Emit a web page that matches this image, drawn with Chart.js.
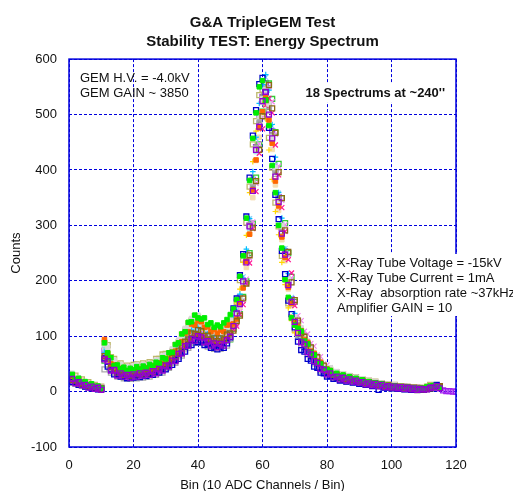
<!DOCTYPE html>
<html>
<head>
<meta charset="utf-8">
<title>G&amp;A TripleGEM Test</title>
<script src="https://cdn.jsdelivr.net/npm/chart.js@4.4.1/dist/chart.umd.min.js"></script>
<style>
    html, body { margin: 0; padding: 0; background: #ffffff; }
    #wrap { width: 513px; height: 491px; }
</style>
</head>
<body>
<div id="wrap"><canvas id="chartSpectrum" width="513" height="491"></canvas></div>
<script>
// Bin (10 ADC channels / bin)
const bins = [
    1, 2, 3, 4, 5, 6, 7, 8, 9, 10, 11, 12, 13, 14, 15, 16, 17, 18, 19, 20,
    21, 22, 23, 24, 25, 26, 27, 28, 29, 30, 31, 32, 33, 34, 35, 36, 37, 38, 39, 40,
    41, 42, 43, 44, 45, 46, 47, 48, 49, 50, 51, 52, 53, 54, 55, 56, 57, 58, 59, 60,
    61, 62, 63, 64, 65, 66, 67, 68, 69, 70, 71, 72, 73, 74, 75, 76, 77, 78, 79, 80,
    81, 82, 83, 84, 85, 86, 87, 88, 89, 90, 91, 92, 93, 94, 95, 96, 97, 98, 99, 100,
    101, 102, 103, 104, 105, 106, 107, 108, 109, 110, 111, 112, 113, 114, 115, 116, 117, 118, 119, 120
];

// Counts per bin, one array per spectrum (18 spectra at ~240")
const spec01 = [23,15,17,11,12,7,9,5,7,3, 58,55,38,39,29,33,27,30,25,31, 27,33,29,34,30,37,33,41,38,47, 45,56,55,68,69,82,83,95,92,100, 98,89,91,83,87,80,86,83,93,99, 118,141,158,199,233,298,362,436,478,524, 541,500,457,388,342,285,247,192,162,126, 106,89,85,71,67,55,52,41,39,31, 33,26,27,22,25,20,22,18,20,16, 17,13,15,11,14,10,12,8,10,7, 9,6,8,5,7,4,6,3,5,4, 4,7,7,10,6];
const spec02 = [31,22,24,17,18,12,14,9,10,6, 88,70,61,47,48,41,44,38,42,39, 45,40,46,42,49,46,53,51,61,59, 70,71,85,88,104,108,125,126,138,133, 131,133,121,124,116,120,117,124,130,139, 149,166,208,245,313,381,457,503,550,561, 526,480,408,359,300,259,202,170,133,120, 114,109,91,86,70,66,53,50,41,40, 38,31,33,28,30,25,27,22,24,20, 21,17,18,15,16,13,14,11,11,9, 10,8,9,7,8,6,7,5,6,6, 9,10,11,8,7];
const spec03 = [21,20,15,15,11,11,8,9,6,6, 64,60,44,42,34,36,30,33,29,34, 35,31,36,33,38,36,42,41,48,47, 51,61,63,74,78,90,94,105,104,111, 109,100,101,94,96,91,96,94,103,105, 110,127,137,168,195,246,296,380,436,497, 526,553,511,467,396,349,291,252,197,165, 128,105,99,85,80,66,62,50,47,38, 36,30,30,26,27,23,24,21,22,19, 20,16,17,14,15,12,13,10,11,8, 10,8,9,7,8,6,7,5,6,4, 5,6,8,9,10];
const spec04 = [28,21,22,15,15,11,12,8,9,6, 94,68,50,48,40,42,35,38,34,39, 36,41,38,43,40,47,44,52,51,60, 60,71,73,87,90,105,108,122,120,128, 126,116,117,108,112,105,111,108,120,121, 122,131,161,187,235,284,364,418,476,505, 530,490,448,380,335,279,242,188,159,124, 117,110,94,89,73,69,55,53,41,41, 38,31,32,26,29,23,26,21,23,19, 20,16,18,14,16,12,14,10,12,8, 10,7,9,6,8,5,7,4,6,4, 7,6,10,9,8];
const spec05 = [17,18,12,13,9,10,6,7,4,6, 60,45,40,31,32,27,29,24,28,25, 30,26,31,28,32,30,36,34,41,40, 47,48,57,59,70,72,84,84,93,89, 92,84,85,79,81,76,81,79,87,98, 150,168,210,248,316,386,462,508,555,566, 540,476,420,355,311,254,212,164,140,116, 90,75,72,59,56,45,43,34,33,27, 28,23,25,20,22,18,21,16,19,14, 16,12,15,10,13,3,11,7,10,6, 8,5,7,4,6,3,5,3,4,3, 6,5,9,12,8];
const spec06 = [33,24,25,18,18,13,14,9,10,7, 86,80,59,57,47,49,42,45,41,46, 48,44,49,46,51,50,57,57,64,66, 65,77,80,93,99,114,118,132,130,138, 122,118,114,111,108,112,107,115,117,129, 128,138,169,196,246,298,379,437,496,528, 545,519,459,404,342,299,245,204,159,135, 122,115,99,92,77,71,59,54,45,42, 43,36,36,31,32,28,29,25,26,23, 23,19,20,17,18,15,15,12,13,10, 12,9,10,8,9,6,8,5,7,5, 8,8,11,12,9];
const spec07 = [20,19,15,15,11,11,8,8,5,6, 63,58,45,36,36,30,33,28,31,29, 30,34,31,35,32,38,36,43,42,49, 52,54,63,66,78,82,93,95,103,101, 98,99,92,93,87,90,87,93,94,104, 112,118,139,157,195,232,294,361,430,474, 517,529,503,445,391,332,289,238,214,155, 123,111,95,89,76,70,58,54,44,42, 34,33,28,29,25,26,22,23,20,21, 18,18,15,16,13,14,11,12,9,10, 8,10,7,9,6,8,5,7,4,6, 5,7,8,9,9];
const spec08 = [27,20,20,14,15,11,12,7,8,5, 71,66,48,46,38,40,34,37,33,38, 39,35,40,37,42,40,46,45,52,53, 61,63,74,78,91,96,109,111,121,118, 116,115,107,108,102,105,102,108,109,121, 133,144,176,205,257,312,397,459,520,554, 572,544,482,423,359,313,257,213,167,141, 118,109,95,88,74,68,56,52,42,40, 37,31,31,27,28,24,25,22,23,20, 20,17,18,15,16,13,14,11,12,9, 10,8,9,6,8,6,7,5,6,4, 6,8,9,11,8];
const spec09 = [32,24,25,18,17,13,14,9,10,7, 62,72,58,55,46,47,41,43,39,44, 46,42,47,44,50,48,55,54,62,63, 66,69,80,85,99,105,118,122,131,128, 120,111,111,104,106,101,106,104,113,124, 130,160,185,233,282,359,415,470,501,524, 492,436,383,325,283,233,193,151,128,106, 110,104,88,82,67,63,51,48,39,38, 36,30,32,27,28,23,26,21,24,19, 20,16,18,14,15,12,13,10,11,9, 10,8,9,7,8,6,7,5,6,6, 8,11,10,9,6];
const spec10 = [16,17,12,12,9,9,7,7,4,5, 40,48,34,33,27,29,24,26,23,27, 24,28,25,30,27,32,30,36,34,41, 43,52,52,63,65,76,79,88,88,93, 88,88,81,83,77,80,77,83,83,95, 120,142,160,199,237,300,368,439,484,528, 546,507,460,393,345,289,249,195,163,128, 99,84,80,67,63,51,49,38,38,29, 31,24,27,21,24,18,22,17,20,15, 17,12,16,11,14,9,12,7,11,6, 9,5,8,4,7,3,6,2,5,3, 4,6,7,9,7];
const spec11 = [26,25,19,19,14,14,10,11,7,8, 69,78,57,46,46,39,41,36,40,37, 42,38,43,41,46,44,50,50,57,58, 62,73,76,89,95,109,114,126,127,133, 121,112,110,104,106,100,105,104,112,118, 117,122,144,164,203,241,306,376,447,494, 538,550,523,464,407,345,301,247,205,161, 137,128,109,104,87,82,66,63,50,48, 43,35,36,30,32,27,28,23,26,21, 23,19,20,17,18,14,15,12,13,10, 11,9,10,8,9,7,8,6,7,5, 6,7,9,10,10];
const spec12 = [22,21,16,16,12,12,9,9,6,7, 77,58,50,40,40,34,36,31,35,32, 37,33,38,35,40,38,44,43,50,50, 58,60,70,74,86,91,103,106,114,112, 114,106,106,99,101,96,101,99,108,111, 125,147,167,207,246,312,383,456,504,549, 567,527,479,409,358,301,258,203,170,133, 116,100,94,80,74,61,57,46,44,35, 36,29,31,25,28,22,25,20,23,18, 19,15,17,13,15,11,13,9,11,7, 10,7,9,6,8,5,7,4,6,4, 7,6,10,10,7];
const spec13 = [24,16,17,12,13,9,10,6,7,4, 60,57,41,40,33,34,29,32,28,33, 34,30,34,31,36,34,40,39,45,45, 48,58,59,70,74,86,89,99,99,105, 103,95,96,89,91,86,91,89,97,100, 121,143,162,201,239,303,372,443,489,533, 551,512,465,397,348,292,251,197,165,129, 101,94,81,76,63,59,48,45,36,35, 29,30,24,26,21,24,19,22,17,20, 15,16,13,14,12,13,10,11,8,9, 7,8,6,7,5,6,4,6,4,6, 6,5,9,8,7];
const spec14 = [30,29,22,22,16,17,12,12,8,9, 88,84,62,59,49,51,44,47,43,48, 49,45,51,48,53,52,59,59,67,68, 69,72,84,89,103,110,123,128,136,135, 125,117,116,109,111,106,111,109,119,128, 143,162,201,238,305,370,446,488,535,545, 519,458,404,341,298,245,203,159,134,112, 124,108,100,84,78,64,60,48,46,39, 39,33,34,29,31,26,28,23,26,20, 22,17,20,15,18,12,15,10,13,9, 12,8,10,7,9,6,8,5,7,6, 9,12,11,9,7];
const spec15 = [23,22,17,17,13,13,10,9,6,7, 71,60,53,42,42,36,38,33,37,34, 35,39,36,41,38,44,42,49,48,57, 57,67,69,82,86,100,104,115,116,122, 120,111,111,104,106,101,106,104,113,117, 126,136,166,193,243,294,374,433,490,522, 540,513,454,399,339,295,243,201,157,134, 112,104,90,84,70,65,53,50,40,39, 32,33,27,29,24,26,21,24,19,22, 16,19,14,17,12,15,10,13,8,11, 7,10,6,9,5,8,4,7,3,6, 5,8,8,11,7];
const spec16 = [22,15,16,11,12,8,9,5,7,4, 56,58,39,38,30,33,27,30,26,31, 28,32,29,33,30,36,34,40,39,46, 46,55,56,67,69,81,84,94,93,99, 97,90,90,84,86,81,86,84,92,94, 113,129,140,171,199,250,303,386,446,505, 544,556,528,468,411,349,304,250,207,162, 121,101,94,81,76,63,59,48,45,36, 35,29,30,24,26,21,24,19,22,17, 19,15,16,13,15,12,13,10,11,8, 9,7,8,6,7,5,6,4,6,4, 5,5,7,8,9];
const spec17 = [27,26,20,20,14,15,11,11,7,8, 80,75,55,52,44,45,39,42,38,43, 40,44,41,46,44,50,48,56,56,64, 64,66,77,82,94,100,113,117,125,123, 121,121,112,113,107,110,107,113,115,126, 114,135,152,189,224,285,350,417,459,501, 518,481,437,373,327,274,236,185,155,121, 127,110,103,88,81,67,63,51,48,39, 39,32,34,28,31,24,27,22,25,20, 21,17,19,15,16,12,14,10,12,8, 11,8,10,7,9,6,8,5,7,5, 6,9,9,12,8];
const spec18 = [19,21,15,15,11,12,8,9,5,7, 74,54,48,38,38,32,34,29,33,30, 31,35,32,37,34,40,38,45,44,51, 55,57,67,70,82,86,98,101,108,106, 104,105,97,98,92,95,92,98,99,109, 128,138,170,197,247,300,382,441,500,532, 556,517,470,401,351,295,253,199,167,130, 110,95,89,76,70,58,54,44,42,33, 30,31,26,28,23,25,20,23,18,21, 15,18,13,16,11,14,9,12,8,11, 7,10,6,9,5,8,4,7,3,6, 5,8,8,11,7,2,1,1,0,0];

const spectra = [spec01, spec02, spec03, spec04, spec05, spec06, spec07, spec08, spec09,
                 spec10, spec11, spec12, spec13, spec14, spec15, spec16, spec17, spec18];

// Marker de cada espectro (o primeiro fica por cima)
const markers = [
    { color: '#9400d3', shape: 'rect', fill: false, r: 3.5, w: 1.3 },
    { color: '#00ee00', shape: 'rect', fill: true,  r: 3.2, w: 1 },
    { color: '#8b6914', shape: 'rect', fill: false, r: 3.5, w: 1.3 },
    { color: '#ff6600', shape: 'rect', fill: true,  r: 3.2, w: 1 },
    { color: '#0000cd', shape: 'rect', fill: false, r: 3.5, w: 1.3 },
    { color: '#d8d8d8', shape: 'rect', fill: true,  r: 3.2, w: 1 },
    { color: '#ff1493', shape: 'crossRot', fill: false, r: 3.5, w: 1.2 },
    { color: '#00bfff', shape: 'cross', fill: false, r: 2.8, w: 1.2 },
    { color: '#ffd700', shape: 'cross', fill: false, r: 2.8, w: 1.2 },
    { color: '#a9a9a9', shape: 'rect', fill: false, r: 3.5, w: 1.3 },
    { color: '#ee82ee', shape: 'crossRot', fill: false, r: 3.5, w: 1.2 },
    { color: '#87cefa', shape: 'crossRot', fill: false, r: 3.5, w: 1.2 },
    { color: '#909090', shape: 'rect', fill: true,  r: 2.5, w: 1 },
    { color: '#bdb76b', shape: 'rect', fill: false, r: 3.5, w: 1.3 },
    { color: '#b0e0e6', shape: 'rect', fill: true,  r: 3.2, w: 1 },
    { color: '#32cd32', shape: 'rect', fill: false, r: 3.5, w: 1.3 },
    { color: '#f5deb3', shape: 'rect', fill: true,  r: 3.2, w: 1 },
    { color: '#a020f0', shape: 'rect', fill: false, r: 3.5, w: 1.3 }
];

const gridBlue = '#0000dd';
const fontFamily = "'Liberation Sans', Arial, Helvetica, sans-serif";

Chart.defaults.font.family = fontFamily;
Chart.defaults.color = '#000000';

// Moldura azul + textos dentro do gráfico
const plotText = {
    id: 'plotText',
    afterDraw(chart) {
        const { ctx, chartArea: a } = chart;
        ctx.save();
        ctx.strokeStyle = gridBlue;
        ctx.lineWidth = 1.5;
        ctx.strokeRect(a.left, a.top, a.right - a.left, a.bottom - a.top);

        // caixas opacas por baixo das legendas (como no gnuplot)
        ctx.fillStyle = '#ffffff';
        ctx.fillRect(333, 254, 175, 62);
        ctx.fillRect(304, 84, 144, 18);

        ctx.fillStyle = '#111111';
        ctx.textBaseline = 'middle';
        ctx.textAlign = 'left';
        ctx.font = '13px ' + fontFamily;
        ctx.fillText('GEM H.V. = -4.0kV', 80, 78);
        ctx.fillText('GEM GAIN ~ 3850', 80, 93);

        ctx.fillText('X-Ray Tube Voltage = -15kV', 337, 263);
        ctx.fillText('X-Ray Tube Current = 1mA', 337, 278);
        ctx.fillText('X-Ray  absorption rate ~37kHz', 337, 293);
        ctx.fillText('Amplifier GAIN = 10', 337, 308);

        ctx.font = 'bold 13px ' + fontFamily;
        ctx.textAlign = 'right';
        ctx.fillText("18 Spectrums at ~240''", 445, 93);
        ctx.restore();
    }
};

const ctx = document.getElementById('chartSpectrum').getContext('2d');
const chartSpectrum = new Chart(ctx, {
    type: 'scatter',
    data: {
        datasets: spectra.map((vals, k) => {
            const m = markers[k];
            return {
                label: 'Spectrum ' + (k + 1),
                data: vals.map((v, i) => ({ x: bins[i], y: v })),
                showLine: false,
                pointStyle: m.shape,
                pointRadius: m.r,
                pointHoverRadius: m.r,
                pointBorderWidth: m.w,
                borderColor: m.color,
                backgroundColor: m.fill ? m.color : 'rgba(0,0,0,0)'
            };
        })
    },
    options: {
        responsive: false,
        devicePixelRatio: 1,
        animation: false,
        events: [],
        layout: { padding: { left: 0, right: 57, top: 0, bottom: 0 } },
        plugins: {
            legend: { display: false },
            tooltip: { enabled: false },
            title: {
                display: true,
                fullSize: false,
                text: ['G&A TripleGEM Test', 'Stability TEST: Energy Spectrum'],
                color: '#111111',
                font: { size: 15, weight: 'bold', lineHeight: 1.27 },
                padding: { top: 13.5, bottom: 7.5 }
            }
        },
        scales: {
            x: {
                type: 'linear',
                min: 0,
                max: 120,
                ticks: { stepSize: 20, padding: 11, font: { size: 13 }, color: '#111111' },
                grid: { color: gridBlue, lineWidth: 1, drawTicks: false },
                border: { display: false, dash: [3, 2] },
                title: {
                    display: true,
                    text: 'Bin (10 ADC Channels / Bin)',
                    font: { size: 13, lineHeight: 0.85 },
                    color: '#111111',
                    padding: 0
                },
                afterFit(scale) { scale.height = 44; }
            },
            y: {
                type: 'linear',
                min: -100,
                max: 600,
                ticks: { stepSize: 100, padding: 12, font: { size: 13 }, color: '#111111' },
                grid: { color: gridBlue, lineWidth: 1, drawTicks: false },
                border: { display: false, dash: [3, 2] },
                title: {
                    display: true,
                    text: 'Counts',
                    font: { size: 13 },
                    color: '#111111',
                    padding: { top: 9, bottom: 0 }
                },
                afterFit(scale) { scale.width = 69; }
            }
        }
    },
    plugins: [plotText]
});
</script>
</body>
</html>
